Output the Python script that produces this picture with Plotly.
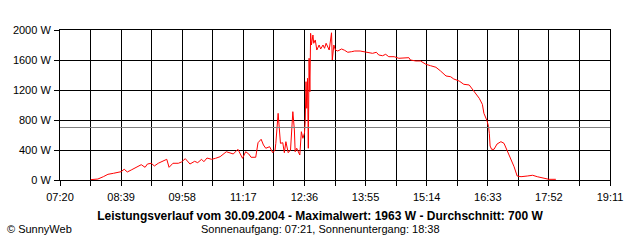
import plotly.graph_objects as go
import pandas as pd

DAY = "2004-09-30 "

times = ["08:00","08:09","08:16","08:22","08:29","08:35","08:39","08:43","08:47","08:52",
         "08:59","09:05","09:10","09:13","09:18","09:22","09:27","09:31","09:38","09:41",
         "09:46","09:53","09:57","10:02","10:08","10:14","10:18","10:23","10:26","10:30",
         "10:36","10:41","10:47","10:55","11:00","11:04","11:10","11:13","11:16","11:20",
         "11:24","11:27","11:33","11:36","11:40","11:43","11:46","11:51","11:55","11:58",
         "11:59","12:02","12:04","12:05","12:08","12:10","12:12","12:15","12:18","12:21",
         "12:23","12:24","12:26","12:30","12:32","12:34","12:36","12:37","12:38","12:39",
         "12:40","12:41","12:42","12:43","12:44","12:45","12:47","12:48","12:50","12:52",
         "12:55","12:57","13:00","13:02","13:04","13:06","13:08","13:11","13:12","13:14",
         "13:16","13:19","13:24","13:28","13:32","13:37","13:41","13:48","13:57","14:04",
         "14:09","14:12","14:17","14:21","14:25","14:32","14:38","14:45","14:51","14:53",
         "15:00","15:06","15:13","15:19","15:26","15:32","15:39","15:45","15:49","15:56",
         "16:02","16:09","16:15","16:22","16:26","16:28","16:32","16:34","16:35","16:36",
         "16:38","16:41","16:45","16:50","16:54","16:58","17:03","17:07","17:11","17:16",
         "17:24","17:31","17:37","17:44","17:52","18:01"]

watts = [5,13,44,76,89,107,111,143,107,133,
         177,204,169,213,223,187,223,240,276,169,
         223,223,240,284,213,249,231,276,244,293,
         276,289,311,377,364,347,409,356,289,377,
         347,303,303,497,543,467,423,444,364,400,
         489,889,623,489,497,364,511,364,400,911,
         667,377,423,333,644,556,623,777,1311,956,
         1356,423,1623,1177,1956,1800,1933,1823,1867,1733,
         1800,1747,1800,1756,1823,1764,1733,1963,1600,1800,
         1733,1720,1747,1729,1703,1711,1720,1720,1703,1689,
         1703,1667,1657,1676,1644,1644,1623,1623,1631,1600,
         1587,1587,1543,1524,1503,1453,1387,1377,1347,1320,
         1276,1267,1187,1089,1009,889,791,711,623,453,
         409,409,480,511,489,391,289,177,53,44,
         53,63,44,23,9,9]

average_w = 700
x_labels = ["07:20","08:39","09:58","11:17","12:36","13:55","15:14","16:33","17:52","19:11"]
y_ticks = [0, 400, 800, 1200, 1600, 2000]
y_labels = [f"{v} W" for v in y_ticks]

title_text = "<b>Leistungsverlauf vom 30.09.2004 - Maximalwert: 1963 W - Durchschnitt: 700 W</b>"
sun_text = "Sonnenaufgang: 07:21, Sonnenuntergang: 18:38"
credit_text = "© SunnyWeb"

x = [DAY + t for t in times]
major = pd.to_datetime([DAY + t for t in x_labels])
minor = [major[i] + (major[i + 1] - major[i]) / 2 for i in range(len(major) - 1)]

FONT = "Liberation Sans, Arial, sans-serif"

fig = go.Figure()
fig.add_trace(go.Scatter(x=x, y=watts, mode="lines",
                         line=dict(color="#ff0000", width=1), hoverinfo="skip"))

fig.add_shape(type="line", xref="paper", x0=0, x1=1, yref="y", y0=average_w, y1=average_w,
              line=dict(color="#808080", width=1.2), layer="above")

fig.update_layout(
    width=640, height=240,
    margin=dict(l=60, r=30, t=30, b=60, autoexpand=False),
    paper_bgcolor="white", plot_bgcolor="white",
    showlegend=False,
    font=dict(family=FONT, size=11, color="black"),
    title=dict(text=title_text, x=0.5, xref="container", xanchor="center",
               y=1 - 216 / 240, yref="container", yanchor="middle",
               font=dict(family=FONT, size=12, color="black")),
    xaxis=dict(
        type="date",
        range=[major[0], major[-1]],
        tickvals=list(major), ticktext=x_labels,
        ticks="outside", ticklen=5, tickcolor="black", tickwidth=1,
        ticklabelstandoff=2,
        showgrid=True, gridcolor="black", gridwidth=1,
        showline=True, linecolor="black", linewidth=1, mirror=True,
        zeroline=False,
        minor=dict(tickvals=minor, ticks="outside", ticklen=5, tickcolor="black",
                   showgrid=True, gridcolor="black", gridwidth=1),
        tickfont=dict(family=FONT, size=11, color="black"),
        fixedrange=True,
    ),
    yaxis=dict(
        range=[0, 2000],
        tickvals=y_ticks, ticktext=y_labels,
        ticks="outside", ticklen=5, tickcolor="black", tickwidth=1,
        ticklabelstandoff=1,
        showgrid=True, gridcolor="black", gridwidth=1,
        showline=True, linecolor="black", linewidth=1, mirror=True,
        zeroline=False,
        tickfont=dict(family=FONT, size=11, color="black"),
        fixedrange=True,
    ),
    annotations=[
        dict(text=sun_text, xref="paper", yref="paper",
             x=(320 - 60) / 550, y=(180 - 229) / 150,
             xanchor="center", yanchor="middle", showarrow=False,
             font=dict(family=FONT, size=11, color="black")),
        dict(text=credit_text, xref="paper", yref="paper",
             x=(5 - 60) / 550, y=(180 - 229) / 150,
             xanchor="left", yanchor="middle", showarrow=False,
             font=dict(family=FONT, size=11, color="black")),
    ],
)

fig.write_html("out.html")
